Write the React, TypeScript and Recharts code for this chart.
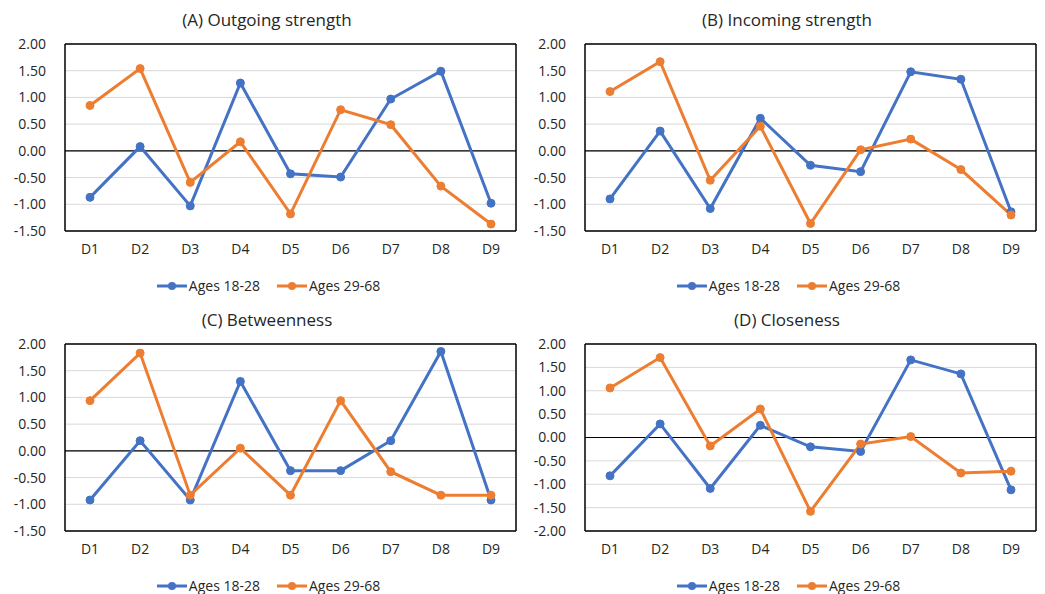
import React from 'react';
import { LineChart, Line, XAxis, YAxis, CartesianGrid, ReferenceLine, Legend } from 'recharts';

const categories = ['D1', 'D2', 'D3', 'D4', 'D5', 'D6', 'D7', 'D8', 'D9'];
const seriesNames = ['Ages 18-28', 'Ages 29-68'];

const outgoingYoung = [-0.87, 0.08, -1.03, 1.27, -0.43, -0.49, 0.97, 1.49, -0.98];
const outgoingOld = [0.85, 1.54, -0.59, 0.17, -1.18, 0.77, 0.49, -0.66, -1.37];

const incomingYoung = [-0.9, 0.37, -1.08, 0.61, -0.27, -0.39, 1.48, 1.34, -1.14];
const incomingOld = [1.11, 1.67, -0.55, 0.46, -1.36, 0.02, 0.22, -0.35, -1.2];

const betweenYoung = [-0.92, 0.19, -0.92, 1.3, -0.37, -0.37, 0.19, 1.86, -0.92];
const betweenOld = [0.94, 1.83, -0.83, 0.05, -0.83, 0.94, -0.39, -0.83, -0.83];

const closeYoung = [-0.82, 0.29, -1.09, 0.26, -0.2, -0.3, 1.66, 1.36, -1.12];
const closeOld = [1.06, 1.71, -0.18, 0.61, -1.58, -0.14, 0.02, -0.76, -0.72];

const ticksAC = [-1.5, -1.0, -0.5, 0, 0.5, 1.0, 1.5, 2.0];
const ticksD = [-2.0, -1.5, -1.0, -0.5, 0, 0.5, 1.0, 1.5, 2.0];

const BLUE = '#4472C4';
const ORANGE = '#ED7D31';
const FONT = '"Open Sans", "Noto Sans", sans-serif';
const TEXT = '#262626';

const buildRows = (young: number[], old: number[]) =>
  categories.map((c, i) => ({ cat: c, young: young[i], old: old[i] }));

const LegendContent = () => (
  <div
    style={{
      display: 'flex',
      justifyContent: 'center',
      width: 536,
      marginTop: 15,
      fontFamily: FONT,
      fontSize: 14,
      color: TEXT,
      lineHeight: '20px',
    }}
  >
    {[BLUE, ORANGE].map((col, i) => (
      <div key={i} style={{ display: 'flex', alignItems: 'center', marginRight: i === 0 ? 16 : 0 }}>
        <svg width={32} height={10} style={{ marginRight: 1 }}>
          <line x1={1} y1={5} x2={31} y2={5} stroke={col} strokeWidth={3} />
          <circle cx={16} cy={5} r={4} fill={col} />
        </svg>
        <span>{seriesNames[i]}</span>
      </div>
    ))}
  </div>
);

type PanelProps = {
  title: string;
  young: number[];
  old: number[];
  domain: [number, number];
  ticks: number[];
  left: number;
  top: number;
};

const frameV = ({ offset }: any) => [offset.left, offset.left + offset.width];
const frameH = ({ offset }: any) => [offset.top, offset.top + offset.height];

const Panel = ({ title, young, old, domain, ticks, left, top }: PanelProps) => {
  const data = buildRows(young, old);
  return (
    <div style={{ position: 'absolute', left, top, width: 520, height: 300 }}>
      <div
        style={{
          position: 'absolute',
          left: 0,
          top: 7,
          width: 534,
          textAlign: 'center',
          fontFamily: FONT,
          fontSize: 17,
          color: TEXT,
          lineHeight: '26px',
        }}
      >
        {title}
      </div>
      <LineChart
        width={520}
        height={300}
        data={data}
        margin={{ top: 44, right: 4, bottom: 5, left: 0 }}
      >
        <CartesianGrid horizontal vertical={false} stroke="#d9d9d9" strokeWidth={1} />
        <XAxis
          dataKey="cat"
          height={30}
          tickLine={false}
          axisLine={false}
          tick={{ fill: TEXT, fontSize: 14, fontFamily: FONT }}
          tickMargin={7}
          interval={0}
          padding={{ left: 25, right: 25 }}
        />
        <YAxis
          domain={domain}
          ticks={ticks}
          width={65}
          tickLine={false}
          axisLine={false}
          tick={{ fill: TEXT, fontSize: 14, fontFamily: FONT }}
          tickMargin={13}
          tickFormatter={(v: number) => v.toFixed(2)}
          interval={0}
        />
        <ReferenceLine y={0} stroke="#000" strokeWidth={1.2} />
        <CartesianGrid
          horizontal
          vertical
          fill="none"
          stroke="#000"
          strokeWidth={1.5}
          verticalCoordinatesGenerator={frameV}
          horizontalCoordinatesGenerator={frameH}
        />
        <Legend verticalAlign="bottom" height={34} content={() => <LegendContent />} />
        <Line
          type="linear"
          dataKey="young"
          name={seriesNames[0]}
          stroke={BLUE}
          strokeWidth={3}
          dot={{ r: 4, fill: BLUE, stroke: BLUE, strokeWidth: 1 }}
          isAnimationActive={false}
        />
        <Line
          type="linear"
          dataKey="old"
          name={seriesNames[1]}
          stroke={ORANGE}
          strokeWidth={3}
          dot={{ r: 4, fill: ORANGE, stroke: ORANGE, strokeWidth: 1 }}
          isAnimationActive={false}
        />
      </LineChart>
    </div>
  );
};

export default function App() {
  return (
    <div style={{ position: 'absolute', left: 0, top: 0, width: 1045, height: 594, background: '#fff' }}>
      <Panel title="(A) Outgoing strength" young={outgoingYoung} old={outgoingOld} domain={[-1.5, 2]} ticks={ticksAC} left={0} top={0} />
      <Panel title="(B) Incoming strength" young={incomingYoung} old={incomingOld} domain={[-1.5, 2]} ticks={ticksAC} left={520} top={0} />
      <Panel title="(C) Betweenness" young={betweenYoung} old={betweenOld} domain={[-1.5, 2]} ticks={ticksAC} left={0} top={300} />
      <Panel title="(D) Closeness" young={closeYoung} old={closeOld} domain={[-2, 2]} ticks={ticksD} left={520} top={300} />
    </div>
  );
}
